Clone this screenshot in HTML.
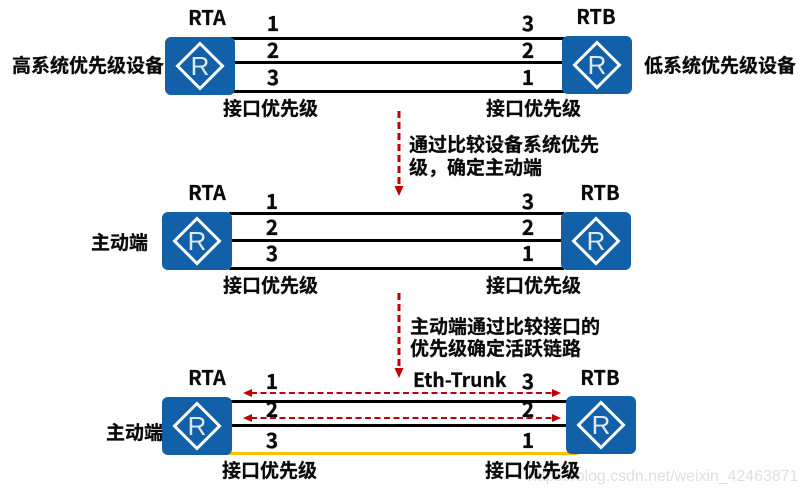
<!DOCTYPE html>
<html><head><meta charset="utf-8"><style>
html,body{margin:0;padding:0;background:#fff;width:807px;height:493px;overflow:hidden}
svg{display:block}
text{font-family:"Noto Sans CJK SC","Liberation Sans",sans-serif;font-weight:700;font-size:19px;fill:#0a0a0a;stroke:#0a0a0a;stroke-width:.25px}
.n{font-size:21px;text-anchor:middle}
.r{font-size:20px;text-anchor:middle}
.s{font-size:19px}
.R{font-family:"Liberation Sans",sans-serif;font-weight:400;font-size:26px;fill:#dfe9f4;stroke:none;text-anchor:middle}
.wm{font-family:"Liberation Sans",sans-serif;font-weight:400;font-size:15.9px;fill:#000;stroke:none;opacity:.13}
</style></head><body>
<svg width="807" height="493" viewBox="0 0 807 493" xmlns="http://www.w3.org/2000/svg">
<defs>
<g id="rt"><rect x="0" y="0" width="70" height="58" rx="6" fill="#1160a8"/>
<path d="M35 6.500 L57.500 29 L35 51.500 L12.500 29 Z" fill="none" stroke="#fff" stroke-width="3"/>
<text class="R" x="35" y="38">R</text></g>
</defs>
<g fill="#000">
<rect x="230" y="37" width="335" height="3"/><rect x="230" y="61" width="335" height="3"/><rect x="230" y="90" width="335" height="3"/>
<rect x="229" y="212" width="335" height="3"/><rect x="229" y="239" width="335" height="3"/><rect x="229" y="267" width="335" height="3"/>
<rect x="230" y="400" width="338" height="3"/><rect x="230" y="424" width="338" height="3"/>
</g>
<rect x="215" y="452" width="363" height="3" fill="#ffc000"/>
<use href="#rt" x="165" y="37"/><use href="#rt" x="562" y="36"/>
<use href="#rt" x="162" y="212"/><use href="#rt" x="561" y="212"/>
<use href="#rt" x="162" y="397"/><use href="#rt" x="566" y="396"/>
<text class="r" x="207" y="25">RTA</text><text class="r" x="596" y="24">RTB</text>
<text class="r" x="207" y="200">RTA</text><text class="r" x="600" y="200">RTB</text>
<text class="r" x="207" y="385">RTA</text><text class="r" x="600" y="385">RTB</text>
<text class="n" x="273" y="31">1</text><text class="n" x="273" y="58">2</text><text class="n" x="273" y="85">3</text>
<text class="n" x="528" y="31">3</text><text class="n" x="528" y="58">2</text><text class="n" x="528" y="85">1</text>
<text class="n" x="272" y="209">1</text><text class="n" x="272" y="235">2</text><text class="n" x="272" y="261">3</text>
<text class="n" x="528" y="209">3</text><text class="n" x="528" y="235">2</text><text class="n" x="528" y="261">1</text>
<text class="n" x="272" y="389">1</text><text class="n" x="272" y="417">2</text><text class="n" x="272" y="448">3</text>
<text class="n" x="528" y="389">3</text><text class="n" x="528" y="417">2</text><text class="n" x="528" y="448">1</text>
<text x="12" y="72">高系统优先级设备</text><text x="644" y="72">低系统优先级设备</text>
<text x="223" y="115">接口优先级</text><text x="486" y="115">接口优先级</text>
<text x="223" y="292">接口优先级</text><text x="486" y="292">接口优先级</text>
<text x="222" y="477">接口优先级</text><text x="485" y="477">接口优先级</text>
<text x="91" y="249">主动端</text><text x="106" y="439">主动端</text>
<text class="s" x="409" y="151">通过比较设备系统优先</text>
<text class="s" x="409" y="174">级，确定主动端</text>
<text class="s" x="410" y="333">主动端通过比较接口的</text>
<text class="s" x="410" y="355">优先级确定活跃链路</text>
<text class="r" x="413" y="387" style="text-anchor:start;font-size:19.3px">Eth-Trunk</text>
<g stroke="#c00000" stroke-width="3" fill="none" stroke-dasharray="7 4">
<line x1="399" y1="111" x2="399" y2="187"/><line x1="399" y1="293" x2="399" y2="368"/>
</g>
<g fill="#c00000"><path d="M394.500 186h9l-4.500 10z"/><path d="M394.500 368h9l-4.500 10z"/>
<path d="M243 393l9-4v8z"/><path d="M243 418l9-4v8z"/><path d="M561 393l-9-4v8z"/><path d="M561 418l-9-4v8z"/></g>
<g stroke="#c00000" stroke-width="2" fill="none" stroke-dasharray="6 3.500">
<line x1="251" y1="393" x2="553" y2="393"/><line x1="251" y1="418" x2="553" y2="418"/>
</g>
<text class="wm" x="528" y="481">https://blog.csdn.net/weixin_42463871</text>
</svg>
</body></html>
